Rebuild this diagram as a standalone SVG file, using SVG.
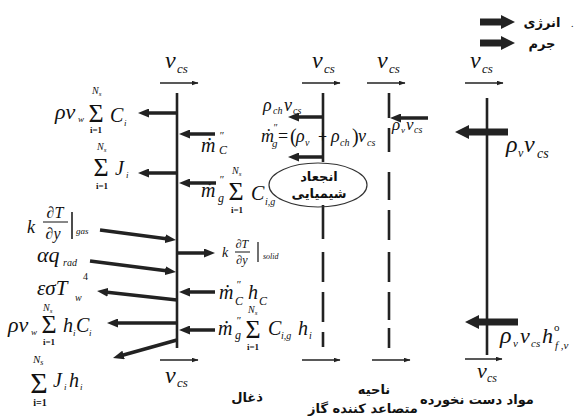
<svg xmlns="http://www.w3.org/2000/svg" width="582" height="418" viewBox="0 0 582 418">
<style>
.m{font-family:"Liberation Serif","DejaVu Serif",serif;font-style:italic;fill:#111}
.u{font-family:"Liberation Serif","DejaVu Serif",serif;fill:#111}
.b{font-weight:bold}
.fa{font-family:"DejaVu Sans","Noto Sans",sans-serif;font-weight:bold;fill:#111;font-size:13px}
.ln{stroke:#222;stroke-width:2.6;fill:none}
.ar{stroke:#222;stroke-width:3.5;fill:none;marker-end:url(#ah)}
.th{stroke:#222;stroke-width:1.3;fill:none;marker-end:url(#ts)}
.bg{stroke:#222;stroke-width:7;fill:none;marker-end:url(#big)}
.fr{stroke:#111;stroke-width:1}
</style>
<defs>
<marker id="ah" markerUnits="userSpaceOnUse" markerWidth="11" markerHeight="9" refX="3" refY="4.5" orient="auto"><path d="M0,0 L11,4.5 L0,9 z" fill="#222"/></marker>
<marker id="ts" markerUnits="userSpaceOnUse" markerWidth="7" markerHeight="5" refX="6.5" refY="2.5" orient="auto"><path d="M0,0 L7,2.5 L0,5 z" fill="#222"/></marker>
<marker id="big" markerUnits="userSpaceOnUse" markerWidth="14" markerHeight="14" refX="2" refY="7" orient="auto"><path d="M0,0 L14,7 L0,14 z" fill="#222"/></marker>
</defs>
<rect width="582" height="418" fill="#fff"/>

<g id="legend">
<text class="fa" x="542" y="27" text-anchor="middle" font-size="12">انرژی</text>
<text class="fa" x="542" y="48" text-anchor="middle" font-size="12">جرم</text>
<text class="u" x="571" y="27" font-size="10" fill="#666">.</text>
</g>

<g id="char">
<line class="ln" x1="177" y1="93" x2="177" y2="348"/>
<text class="m" font-size="24" x="165" y="68">v</text><text class="m" font-size="13" x="177" y="73">cs</text>
<text class="m" font-size="24" x="165" y="383">v</text><text class="m" font-size="13" x="177" y="387">cs</text>
<text class="fa" x="247" y="402" text-anchor="middle" font-size="14">ذغال</text>
</g>

<g id="pyro-front">
<path class="ln" d="M323,93 V162 M323,205 V239 M323,252 V282 M323,292 V322 M323,332 V347"/>
<text class="m" font-size="24" x="312" y="68">v</text><text class="m" font-size="13" x="324" y="73">cs</text>
</g>

<g id="pyro-back">
<path class="ln" d="M389,93 V118 M389,128 V152 M389,172 V200 M389,210 V240 M389,252 V282 M389,292 V320 M389,328 V348"/>
<text class="m" font-size="24" x="377" y="68">v</text><text class="m" font-size="13" x="389" y="73">cs</text>
<text class="fa" x="374" y="394" text-anchor="middle" font-size="12">ناحیه</text>
<text class="fa" x="363" y="413" text-anchor="middle" font-size="12">متصاعد کننده گاز</text>
</g>

<g id="virgin">
<line class="ln" x1="487" y1="98" x2="487" y2="355"/>
<text class="m" font-size="24" x="470" y="68">v</text><text class="m" font-size="13" x="482" y="73">cs</text>
<text class="m" font-size="22" x="477" y="378">v</text><text class="m" font-size="12" x="487" y="382">cs</text>
<text class="fa" x="477" y="404" text-anchor="middle" font-size="12">مواد دست نخورده</text>
</g>

<g id="reaction">
<ellipse cx="318" cy="185" rx="49" ry="22" fill="none" stroke="#333" stroke-width="1.2"/>
<text class="fa" x="319" y="181" text-anchor="middle" font-size="11">انجعاد</text>
<text class="fa" x="319" y="198" text-anchor="middle" font-size="11">شیمیایی</text>
</g>

<g id="left-labels">
<text class="m" font-size="22" x="55" y="119">ρv</text><text class="m" font-size="9" x="78" y="122">w</text>
<text class="u" font-size="26" x="96" y="122" text-anchor="middle">Σ</text>
<text class="m" font-size="10" x="92" y="94">N<tspan font-size="7" dy="2">s</tspan></text>
<text class="u b" font-size="9" x="96" y="133" text-anchor="middle">i=1</text>
<text class="m" font-size="20" x="110" y="122">C</text><text class="m" font-size="9" x="124" y="126">i</text>

<text class="u" font-size="26" x="101" y="176" text-anchor="middle">Σ</text>
<text class="m" font-size="10" x="97" y="150">N<tspan font-size="7" dy="2">s</tspan></text>
<text class="u b" font-size="9" x="102" y="189" text-anchor="middle">i=1</text>
<text class="m" font-size="20" x="115" y="175">J</text><text class="m" font-size="9" x="126" y="178">i</text>

<text class="m" font-size="18" x="27" y="233">k</text>
<text class="m" font-size="16" x="55" y="218" text-anchor="middle">∂T</text>
<line class="fr" x1="43" y1="222" x2="68" y2="222"/>
<text class="m" font-size="16" x="53" y="239" text-anchor="middle">∂y</text>
<line stroke="#111" stroke-width="1.5" x1="72" y1="212" x2="72" y2="239"/>
<text class="m" font-size="9" x="76" y="234">gas</text>

<text class="m" font-size="22" x="37" y="262">αq</text><text class="m" font-size="10" x="63" y="266">rad</text>

<text class="m" font-size="21" x="37" y="295">εσT</text><text class="m" font-size="10" x="75" y="301">w</text><text class="u" font-size="10" x="83" y="280">4</text>

<text class="m" font-size="22" x="8" y="332">ρv</text><text class="m" font-size="9" x="31" y="335">w</text>
<text class="u" font-size="26" x="49" y="333" text-anchor="middle">Σ</text>
<text class="m" font-size="10" x="43" y="311">N<tspan font-size="7" dy="2">s</tspan></text>
<text class="u b" font-size="9" x="49" y="345" text-anchor="middle">i=1</text>
<text class="m" font-size="20" x="63" y="332">h</text><text class="m" font-size="9" x="73" y="336">i</text>
<text class="m" font-size="20" x="76" y="332">C</text><text class="m" font-size="9" x="89" y="336">i</text>

<text class="u" font-size="30" x="39" y="393" text-anchor="middle">Σ</text>
<text class="m" font-size="11" x="33" y="363">N<tspan font-size="8" dy="2">s</tspan></text>
<text class="u b" font-size="10" x="40" y="406" text-anchor="middle">i=1</text>
<text class="m" font-size="20" x="53" y="387">J</text><text class="m" font-size="9" x="64" y="390">i</text>
<text class="m" font-size="20" x="69" y="387">h</text><text class="m" font-size="9" x="80" y="390">i</text>
</g>

<g id="right-labels">
<text class="m" font-size="20" x="201" y="152">ṁ</text><text class="m" font-size="11" x="219" y="139">″</text><text class="m" font-size="12" x="219" y="154">C</text>

<text class="m" font-size="20" x="201" y="197">ṁ</text><text class="m" font-size="11" x="219" y="183">″</text><text class="m" font-size="12" x="218" y="202">g</text>
<text class="u" font-size="26" x="236" y="200" text-anchor="middle">Σ</text>
<text class="m" font-size="10" x="232" y="174">N<tspan font-size="7" dy="2">s</tspan></text>
<text class="u b" font-size="9" x="237" y="213" text-anchor="middle">i=1</text>
<text class="m" font-size="20" x="251" y="200">C</text><text class="m" font-size="10" x="265" y="205">i,g</text>

<text class="m" font-size="14" x="222" y="257">k</text>
<text class="m" font-size="12" x="242" y="248" text-anchor="middle">∂T</text>
<line class="fr" x1="235" y1="252" x2="250" y2="252"/>
<text class="m" font-size="12" x="242" y="264" text-anchor="middle">∂y</text>
<line stroke="#111" stroke-width="1.2" x1="258" y1="242" x2="258" y2="262"/>
<text class="m" font-size="8" x="263" y="259">solid</text>

<text class="m" font-size="20" x="219" y="299">ṁ</text><text class="m" font-size="11" x="236" y="288">″</text><text class="m" font-size="12" x="235" y="305">C</text>
<text class="m" font-size="20" x="248" y="299">h</text><text class="m" font-size="12" x="259" y="305">C</text>

<text class="m" font-size="20" x="218" y="335">ṁ</text><text class="m" font-size="11" x="236" y="324">″</text><text class="m" font-size="12" x="235" y="339">g</text>
<text class="u" font-size="26" x="253" y="338" text-anchor="middle">Σ</text>
<text class="m" font-size="10" x="248" y="313">N<tspan font-size="7" dy="2">s</tspan></text>
<text class="u b" font-size="9" x="253" y="350" text-anchor="middle">i=1</text>
<text class="m" font-size="20" x="268" y="335">C</text><text class="m" font-size="10" x="281" y="339">i,g</text>
<text class="m" font-size="20" x="298" y="335">h</text><text class="m" font-size="10" x="309" y="339">i</text>

<text class="m" font-size="18" x="263" y="111">ρ</text><text class="m" font-size="10" x="273" y="114">ch</text><text class="m" font-size="18" x="284" y="111">v</text><text class="m" font-size="10" x="293" y="114">cs</text>

<text class="m" font-size="18" x="261" y="142">ṁ</text><text class="m" font-size="10" x="273" y="131">″</text><text class="m" font-size="11" x="272" y="147">g</text>
<text class="u" font-size="18" x="278" y="142">=</text><text class="u" font-size="20" x="290" y="143">(</text>
<text class="m" font-size="18" x="296" y="142">ρ</text><text class="m" font-size="10" x="305" y="146">v</text>
<text class="u" font-size="16" x="318" y="142">+</text>
<text class="m" font-size="18" x="331" y="142">ρ</text><text class="m" font-size="10" x="340" y="146">ch</text>
<text class="u" font-size="20" x="352" y="143">)</text>
<text class="m" font-size="18" x="358" y="142">v</text><text class="m" font-size="10" x="367" y="146">cs</text>

<text class="m" font-size="17" x="392" y="130">ρ</text><text class="m" font-size="9" x="401" y="133">v</text><text class="m" font-size="17" x="406" y="130">v</text><text class="m" font-size="10" x="414" y="133">cs</text>

<text class="m" font-size="24" x="506" y="152">ρ</text><text class="m" font-size="12" x="518" y="157">v</text><text class="m" font-size="24" x="524" y="152">v</text><text class="m" font-size="14" x="537" y="158">cs</text>

<text class="m" font-size="24" x="500" y="343">ρ</text><text class="m" font-size="11" x="513" y="347">v</text><text class="m" font-size="22" x="520" y="343">v</text><text class="m" font-size="11" x="531" y="347">cs</text><text class="m" font-size="22" x="542" y="343">h</text><text class="u" font-size="11" x="554" y="331">o</text><text class="m" font-size="11" x="555" y="349">f ,v</text>
</g>

<g id="connectors">
<line class="th" x1="160" y1="83" x2="198" y2="83"/>
<line class="th" x1="302" y1="83" x2="340" y2="83"/>
<line class="th" x1="367" y1="83" x2="405" y2="83"/>
<line class="th" x1="465" y1="83" x2="503" y2="83"/>
<line class="th" x1="160" y1="360" x2="198" y2="360"/>
<line class="th" x1="302" y1="360" x2="340" y2="360"/>
<line class="th" x1="372" y1="360" x2="410" y2="360"/>
<line class="th" x1="465" y1="359" x2="502" y2="359"/>

<line class="ar" x1="177" y1="113" x2="146" y2="113"/>
<line class="ar" x1="177" y1="173" x2="146" y2="173"/>
<line class="ar" x1="100" y1="230" x2="168.1" y2="239"/>
<line class="ar" x1="90" y1="261" x2="168.1" y2="271"/>
<line class="ar" x1="177" y1="300" x2="105" y2="291.9"/>
<line class="ar" x1="177" y1="323" x2="115" y2="323"/>
<line class="ar" x1="177" y1="340" x2="120.7" y2="355.8"/>

<line class="ar" x1="215" y1="134" x2="187" y2="134"/>
<line class="ar" x1="216" y1="183" x2="187" y2="183"/>
<line class="ar" x1="177" y1="253" x2="207" y2="253"/>
<line class="ar" x1="215" y1="292" x2="187" y2="292"/>
<line class="ar" x1="215" y1="330" x2="187" y2="330"/>

<line class="ar" x1="323" y1="117" x2="296" y2="117"/>
<line class="ar" x1="323" y1="157" x2="296" y2="157"/>
<line class="ar" x1="428" y1="118" x2="398" y2="118"/>

<line class="bg" x1="508" y1="132" x2="467" y2="132"/>
<line class="bg" x1="518" y1="322" x2="477" y2="322"/>
<line class="bg" x1="480" y1="22" x2="503" y2="22"/>
<line class="bg" x1="480" y1="43" x2="503" y2="43"/>
</g>
</svg>
